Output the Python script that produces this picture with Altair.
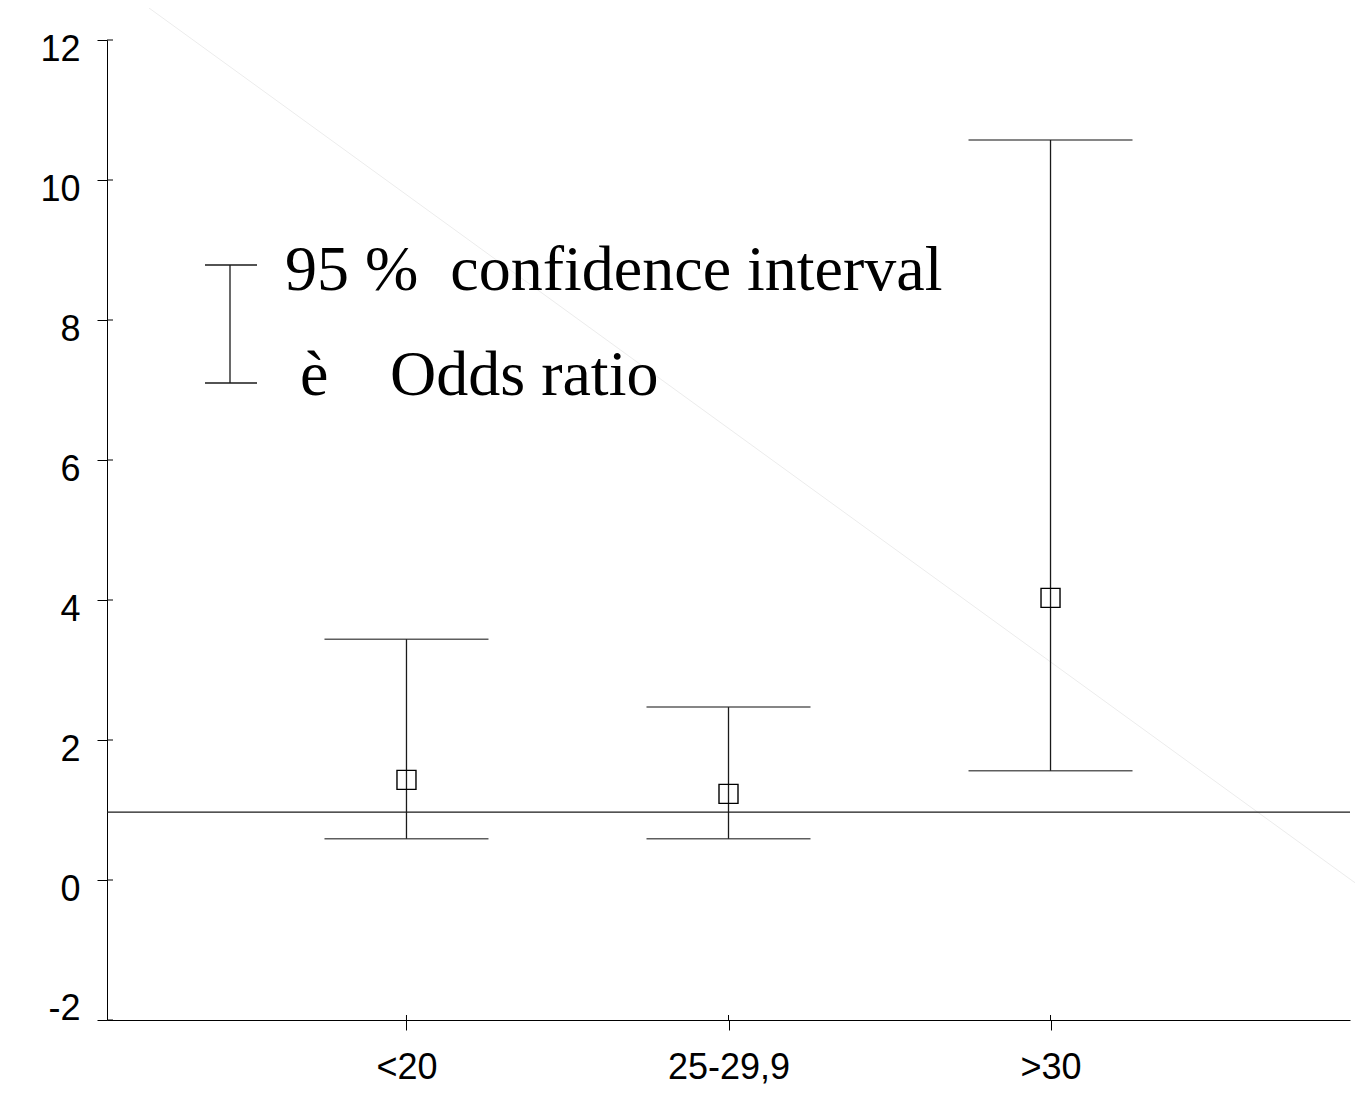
import altair as alt
import pandas as pd

categories = ["<20", "25-29,9", ">30"]
odds_ratio = [1.43, 1.23, 4.03]
ci_lower = [0.59, 0.59, 1.56]
ci_upper = [3.44, 2.47, 10.57]
reference_value = [0.97]
y_ticks = [-2, 0, 2, 4, 6, 8, 10, 12]

df = pd.DataFrame({"cat": categories, "or": odds_ratio, "lo": ci_lower, "hi": ci_upper})
ref_df = pd.DataFrame({"ref": reference_value})
tick_df = pd.DataFrame({"t": y_ticks})

W, H = 1243, 980
xscale = alt.Scale(type="point", padding=0.93)
yscale = alt.Scale(domain=[-2, 12], nice=False, zero=False)
LINE = "#1a1a1a"

x_enc = alt.X("cat:N", sort=categories, scale=xscale,
              axis=alt.Axis(title=None, labelAngle=0, labelFontSize=36, labelFont="Liberation Sans",
                            labelColor="black", tickSize=10, tickColor="black", domainColor="black",
                            labelPadding=20, tickWidth=1, domainWidth=1))

base = alt.Chart(df)

diag = alt.Chart(ref_df).mark_rule(color="#ececec", strokeWidth=1).encode(
    x=alt.value(42), y=alt.value(-32), x2=alt.value(1258), y2=alt.value(850))

ref_line = alt.Chart(ref_df).mark_rule(color=LINE, strokeWidth=1.3).encode(
    y=alt.Y("ref:Q", scale=yscale))

axis_layer = base.mark_rule(color=LINE, strokeWidth=1.3).encode(
    x=x_enc,
    y=alt.Y("lo:Q", scale=yscale,
            axis=alt.Axis(title=None, values=y_ticks, grid=False, labelFontSize=36,
                          labelFont="Liberation Sans", labelColor="black", tickSize=10,
                          tickColor="black", domainColor="black", labelPadding=17,
                          labelExpr="toString(datum.value)",
                          labelOffset={"condition": {"test": "datum.value == -2", "value": -12},
                                       "value": 9},
                          tickWidth=1, domainWidth=1)),
    y2="hi:Q")

# inner part of the axis ticks (ticks cross the axis line)
y_inner = alt.Chart(tick_df).mark_rule(color="black", strokeWidth=1).encode(
    y=alt.Y("t:Q", scale=yscale), x=alt.value(0), x2=alt.value(6))
x_inner = base.mark_rule(color="black", strokeWidth=1).encode(
    x=alt.X("cat:N", sort=categories, scale=xscale), y=alt.value(H - 5), y2=alt.value(H))

caps_lo = base.mark_tick(color=LINE, size=164, thickness=1.5).encode(
    x=alt.X("cat:N", sort=categories, scale=xscale), y=alt.Y("lo:Q", scale=yscale))
caps_hi = base.mark_tick(color=LINE, size=164, thickness=1.5).encode(
    x=alt.X("cat:N", sort=categories, scale=xscale), y=alt.Y("hi:Q", scale=yscale))

points = base.mark_point(shape="square", size=361, filled=False, color="black",
                         strokeWidth=1.4, opacity=1).encode(
    x=alt.X("cat:N", sort=categories, scale=xscale), y=alt.Y("or:Q", scale=yscale))

# legend decoration
leg_v = alt.Chart(ref_df).mark_rule(color=LINE, strokeWidth=1.3).encode(
    x=alt.value(123), y=alt.value(225), y2=alt.value(343))
leg_c1 = alt.Chart(ref_df).mark_rule(color=LINE, strokeWidth=1.3).encode(
    x=alt.value(98), x2=alt.value(150), y=alt.value(225))
leg_c2 = alt.Chart(ref_df).mark_rule(color=LINE, strokeWidth=1.3).encode(
    x=alt.value(98), x2=alt.value(150), y=alt.value(343))
leg_t1 = alt.Chart(ref_df).mark_text(text="95 %\u00a0 confidence interval", font="Liberation Serif",
                                     fontSize=64, align="left", baseline="alphabetic",
                                     color="black").encode(x=alt.value(178), y=alt.value(250))
leg_t2 = alt.Chart(ref_df).mark_text(text="è", font="Liberation Serif", fontSize=64,
                                     align="left", baseline="alphabetic",
                                     color="black").encode(x=alt.value(193), y=alt.value(355))
leg_t3 = alt.Chart(ref_df).mark_text(text="Odds ratio", font="Liberation Serif", fontSize=64,
                                     align="left", baseline="alphabetic",
                                     color="black").encode(x=alt.value(283), y=alt.value(355))

chart = alt.layer(diag, axis_layer, y_inner, x_inner, ref_line, caps_lo, caps_hi, points,
                  leg_v, leg_c1, leg_c2, leg_t1, leg_t2, leg_t3).properties(
    width=W, height=H,
    autosize=alt.AutoSizeParams(type="none"),
    padding={"left": 99, "top": 32, "right": 5, "bottom": 70},
    background="white",
).configure_view(stroke=None)

chart.save("out.html", embed_options={"renderer": "svg", "actions": False})
